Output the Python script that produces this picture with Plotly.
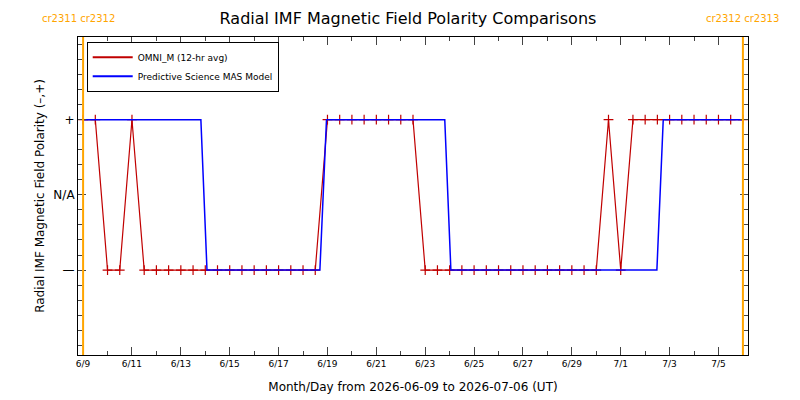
import plotly.graph_objects as go
import pandas as pd

start = pd.Timestamp("2026-06-09")
# OMNI 12-hr averages: polarity state every 12 hours from 6/9 00:00 (1 = +, -1 = -)
omni_state = [1, 1, -1, -1, 1, -1, -1, -1, -1, -1,
              -1, -1, -1, -1, -1, -1, -1, -1, -1, -1,
              1, 1, 1, 1, 1, 1, 1, 1, -1, -1,
              -1, -1, -1, -1, -1, -1, -1, -1, -1, -1,
              -1, -1, -1, 1, -1, 1, 1, 1, 1, 1,
              1, 1, 1, 1, 1]
omni_time = [start + pd.Timedelta(hours=12 * i) for i in range(len(omni_state))]

# MAS model: breakpoints (days after 6/9) and state
mas_days = [0.0, 4.82, 5.07, 9.69, 9.96, 14.8, 15.05, 23.48, 23.74, 27.0]
mas_state = [1, 1, -1, -1, 1, 1, -1, -1, 1, 1]
mas_time = [start + pd.Timedelta(days=d) for d in mas_days]

cr_days = [0.0, 27.0]
cr_left = "cr2311 cr2312"
cr_right = "cr2312 cr2313"

tick_days = list(range(0, 27, 2))
tick_text = ["6/9", "6/11", "6/13", "6/15", "6/17", "6/19", "6/21", "6/23",
             "6/25", "6/27", "6/29", "7/1", "7/3", "7/5"]
tick_vals = [start + pd.Timedelta(days=d) for d in tick_days]

font = "DejaVu Sans"
red = "#C00000"
blue = "#0000FF"
fig = go.Figure()
fig.add_trace(go.Scatter(x=omni_time, y=omni_state, mode="lines+markers",
                         showlegend=False,
                         line=dict(color=red, width=1.2),
                         marker=dict(symbol="cross-thin", size=7,
                                     line=dict(color=red, width=1.2))))
fig.add_trace(go.Scatter(x=mas_time, y=mas_state, mode="lines", showlegend=False,
                         line=dict(color=blue, width=1.5)))
fig.add_trace(go.Scatter(x=[None], y=[None], mode="lines", name="OMNI_M (12-hr avg)",
                         line=dict(color=red, width=2)))
fig.add_trace(go.Scatter(x=[None], y=[None], mode="lines",
                         name="Predictive Science MAS Model",
                         line=dict(color=blue, width=2)))
for d in cr_days:
    t = start + pd.Timedelta(days=d)
    fig.add_shape(type="line", x0=t, x1=t, y0=0, y1=1, yref="paper",
                  line=dict(color="#FFA500", width=2))
fig.add_annotation(x=0.0, y=1.0, xref="paper", yref="paper", yshift=19,
                   text=cr_left, showarrow=False, xanchor="center", yanchor="middle",
                   font=dict(color="#FFA500", size=10, family=font))
fig.add_annotation(x=start + pd.Timedelta(days=27), y=1.0, yref="paper", yshift=19,
                   text=cr_right, showarrow=False, xanchor="center", yanchor="middle",
                   font=dict(color="#FFA500", size=10, family=font))

fig.update_layout(
    width=800, height=400, paper_bgcolor="white", plot_bgcolor="white",
    margin=dict(l=70, r=60, t=29, b=53, autoexpand=False),
    font=dict(family=font, size=11, color="black"),
    title=dict(text="Radial IMF Magnetic Field Polarity Comparisons",
               x=0.5, xanchor="center", y=0.975, yanchor="middle",
               font=dict(size=16), automargin=False),
    showlegend=True,
    legend=dict(x=0.013, y=0.985, xanchor="left", yanchor="top",
                bgcolor="white", bordercolor="black", borderwidth=1,
                font=dict(size=9), tracegroupgap=0, itemwidth=40),
    xaxis=dict(type="date", automargin=False,
               range=[start - pd.Timedelta(hours=5), start + pd.Timedelta(days=27, hours=5)],
               tickvals=tick_vals, ticktext=tick_text, ticks="inside", ticklen=8,
               tickfont=dict(size=9),
               minor=dict(dtick=86400000, ticks="inside", ticklen=4, tick0=start),
               showgrid=False, zeroline=False, showline=True, linecolor="black",
               mirror="allticks",
               title=dict(text="Month/Day from 2026-06-09 to 2026-07-06 (UT)",
                          font=dict(size=12), standoff=14)),
    yaxis=dict(range=[-2.13, 2.1], tickvals=[-1, 0, 1], ticktext=["\u2014", "N/A", "+"],
               ticks="inside", ticklen=8, automargin=False, tickfont=dict(size=12),
               minor=dict(dtick=0.2, ticks="inside", ticklen=4, tick0=0),
               showgrid=False, zeroline=False, showline=True, linecolor="black",
               mirror="allticks",
               title=dict(text="Radial IMF Magnetic Field Polarity (\u2013,+)",
                          font=dict(size=12), standoff=6)),
)
fig.write_html("out.html")
